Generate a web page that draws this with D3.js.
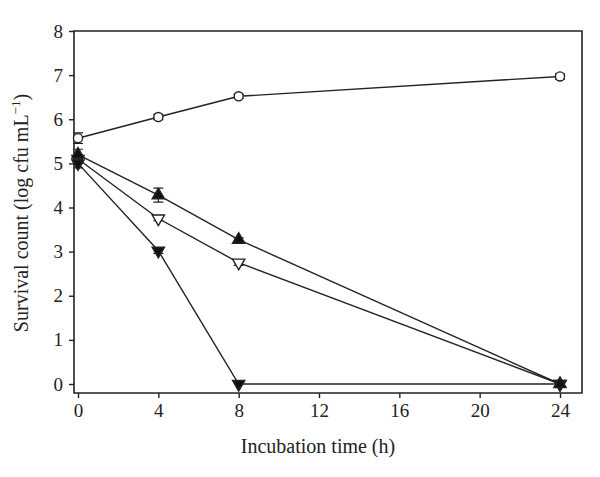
<!DOCTYPE html>
<html><head><meta charset="utf-8">
<script src="https://cdn.jsdelivr.net/npm/d3@7/dist/d3.min.js"></script>
<style>body{margin:0;background:#fff}svg{display:block}text{font-family:"Liberation Serif","DejaVu Serif",serif;fill:#222}</style>
</head><body><svg id="c" width="600" height="477"></svg>
<script>
const times = [0, 4, 8, 24];
const xTicks = [0, 4, 8, 12, 16, 20, 24];
const yTicks = [0, 1, 2, 3, 4, 5, 6, 7, 8];
const openCircle = [5.57, 6.05, 6.52, 6.97];
const openCircleErr = [0.12, 0.06, 0.05, 0.06];
const filledUp = [5.2, 4.28, 3.27, 0];
const filledUpErr = [0.12, 0.16, 0.04, 0.02];
const openDown = [5.1, 3.75, 2.75, 0];
const openDownErr = [0.1, 0.05, 0.06, 0.02];
const filledDown = [5.0, 3.02, 0, 0];
const filledDownErr = [0.1, 0.06, 0.02, 0.02];
const series = [
  {v: openCircle, e: openCircleErr, sym: d3.symbolCircle, fill: "#fff", rot: 0},
  {v: openDown, e: openDownErr, sym: d3.symbolTriangle, fill: "#fff", rot: 180},
  {v: filledDown, e: filledDownErr, sym: d3.symbolTriangle, fill: "#111", rot: 180},
  {v: filledUp, e: filledUpErr, sym: d3.symbolTriangle, fill: "#111", rot: 0}
];
const svg = d3.select("#c");
const L = 74, R = 582, T = 31, B = 393;
const x = d3.scaleLinear().domain([0, 24]).range([78, 560]);
const y = d3.scaleLinear().domain([0, 8]).range([384, 31]);
const col = "#222";
svg.append("path").attr("d", `M${L},${T}H${R}V${B}H${L}Z`).attr("fill", "none").attr("stroke", col).attr("stroke-width", 1.6);
const ya = svg.append("g").attr("transform", `translate(${L},0)`)
  .call(d3.axisLeft(y).tickValues(yTicks).tickSize(5).tickPadding(6).tickFormat(d3.format("d")));
const xa = svg.append("g").attr("transform", `translate(0,${B})`)
  .call(d3.axisBottom(x).tickValues(xTicks).tickSize(5).tickPadding(6).tickFormat(d3.format("d")));
[ya, xa].forEach(a => {
  a.select(".domain").remove();
  a.selectAll(".tick line").attr("stroke", col).attr("stroke-width", 1.4);
  a.selectAll(".tick text").style("font-size", "19px").style("font-family", '"Liberation Serif",serif').attr("fill", col);
});
svg.append("text").attr("x", 318).attr("y", 453).attr("text-anchor", "middle").style("font-size", "20px").text("Incubation time (h)");
const yt = svg.append("text").attr("transform", "translate(28,213) rotate(-90)").attr("text-anchor", "middle").style("font-size", "20px");
yt.append("tspan").text("Survival count (log cfu mL");
yt.append("tspan").attr("dy", -8).style("font-size", "13px").text("−1");
yt.append("tspan").attr("dy", 8).text(")");
const line = d3.line().x((d, i) => x(times[i])).y(d => y(d));
series.forEach(s => {
  svg.append("path").attr("d", line(s.v)).attr("fill", "none").attr("stroke", col).attr("stroke-width", 1.4);
});
series.forEach(s => {
  const g = svg.append("g");
  s.v.forEach((v, i) => {
    const cx = x(times[i]);
    if (s.e[i] > 0.03) {
      const y1 = y(v + s.e[i]), y2 = y(v - s.e[i]);
      g.append("path").attr("d", `M${cx},${y1}V${y2}M${cx - 5},${y1}H${cx + 5}M${cx - 5},${y2}H${cx + 5}`)
        .attr("stroke", col).attr("stroke-width", 1.2).attr("fill", "none");
    }
    const size = s.sym === d3.symbolCircle ? 65 : 65;
    g.append("path").attr("d", d3.symbol().type(s.sym).size(size)())
      .attr("transform", `translate(${cx},${y(v)}) rotate(${s.rot})`)
      .attr("fill", s.fill).attr("stroke", col).attr("stroke-width", 1.4);
  });
});
</script></body></html>
